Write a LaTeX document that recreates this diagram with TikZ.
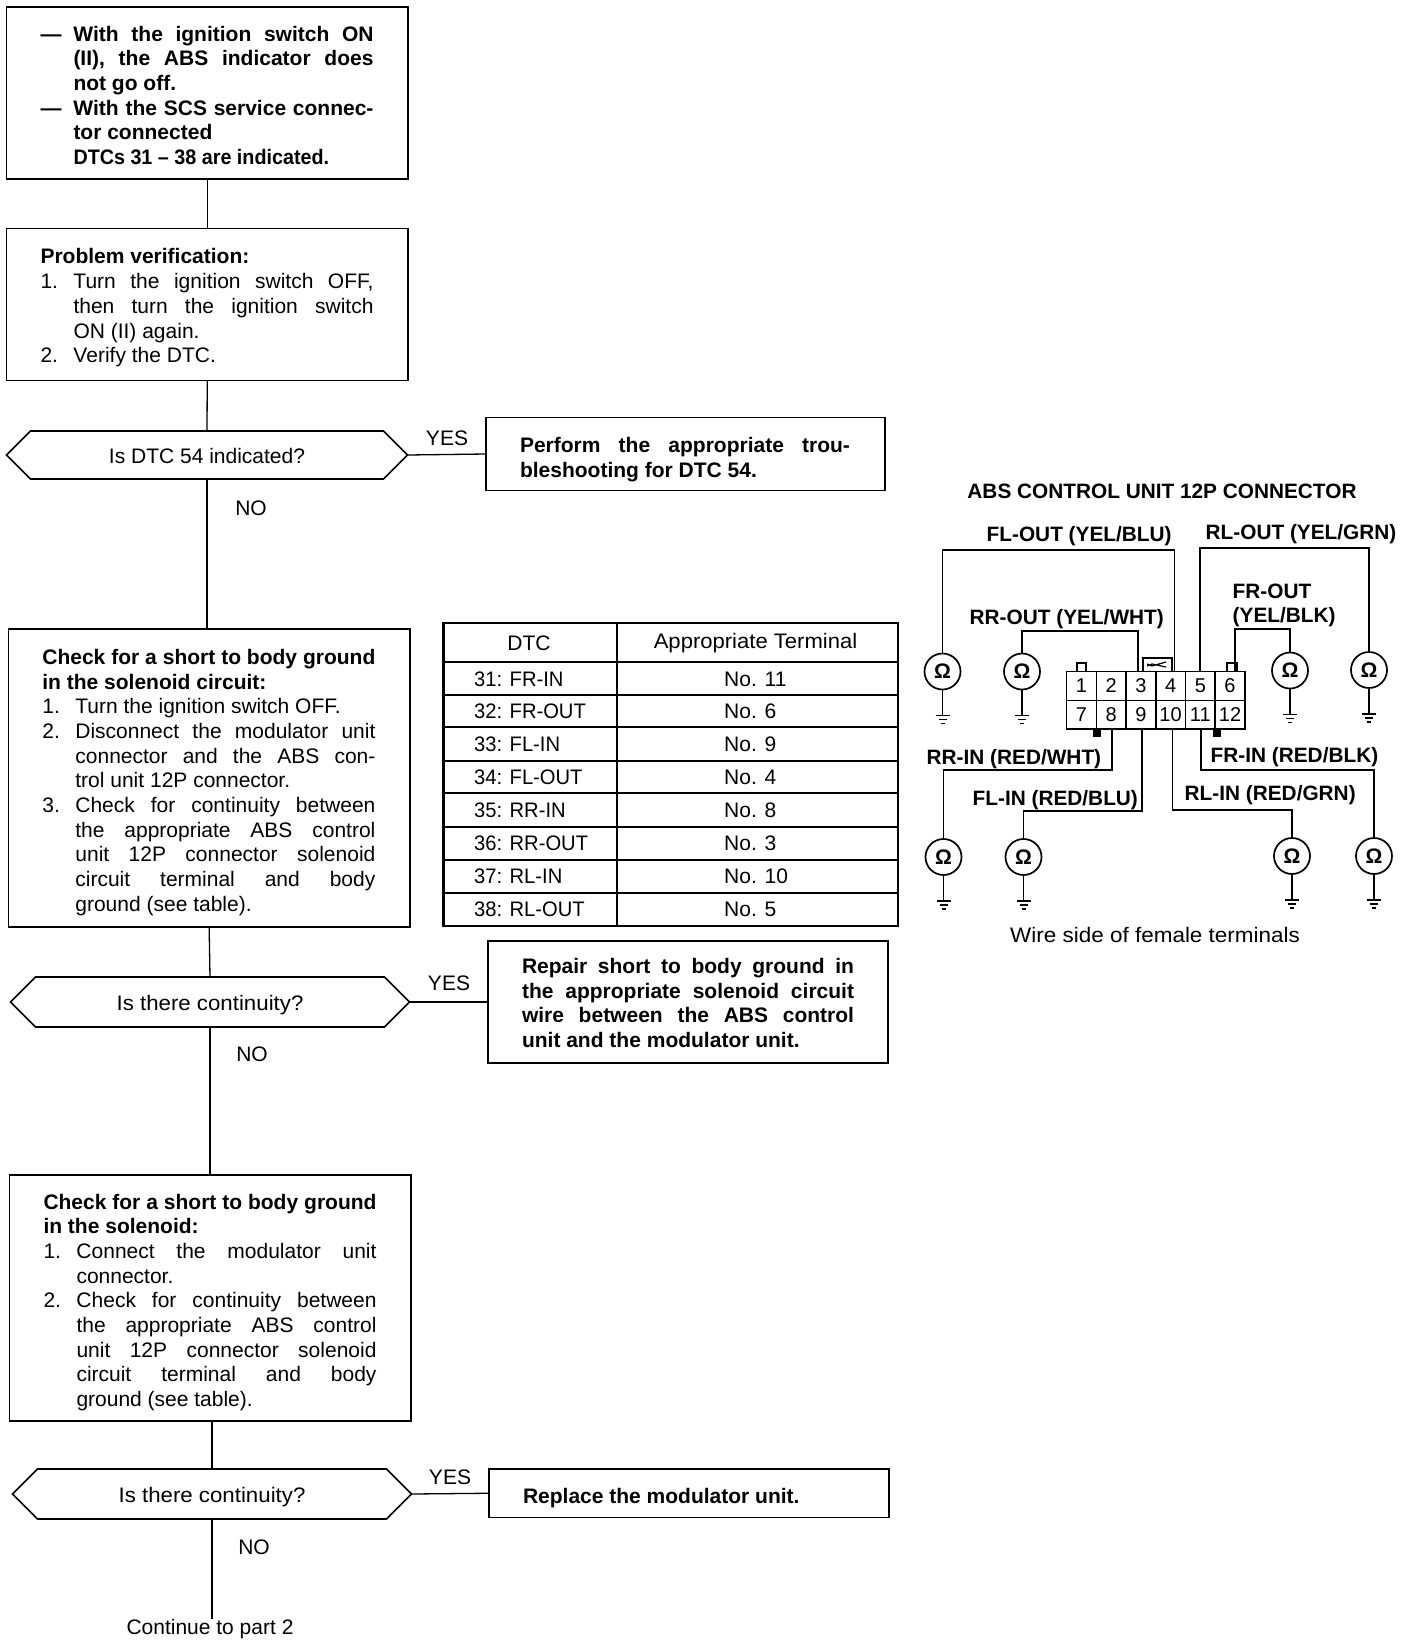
\documentclass[tikz,border=0pt]{standalone}
\usepackage{fontspec}
\setmainfont{Liberation Sans}
\usetikzlibrary{shapes.misc}

\newcommand{\bodyfont}{\fontsize{21}{24.7}\selectfont}
\newcommand{\leadrule}[1]{\rule{0pt}{#1pt}}
\newcommand{\fullline}[1]{\makebox[333pt][s]{#1}}
\newcommand{\hangline}[1]{\makebox[33pt][l]{}\makebox[300pt][s]{#1}}
\newcommand{\itemline}[2]{\makebox[33pt][l]{#1}\makebox[300pt][s]{#2}}
\newcommand{\itemtext}[2]{\makebox[33pt][l]{#1}#2}
\newcommand{\hangtext}[1]{\makebox[33pt][l]{}#1}
\newcommand{\conttext}{\raisebox{-8pt}[0pt][0pt]{\scalebox{1.06}[1]{Is there continuity?}}}

\tikzset{
  flowbox/.style={draw,line width=1.6pt,rectangle,outer sep=0pt,anchor=north west,inner xsep=34pt,inner ysep=0pt,align=flush left,font=\bodyfont},
  boldbox/.style={flowbox,font=\bodyfont\bfseries},
  decide/.style={draw,line width=1.6pt,chamfered rectangle,chamfered rectangle xsep=32pt,outer sep=0pt,inner sep=0pt,font=\bodyfont},
  flowline/.style={line width=1.3pt},
  answer/.style={inner sep=0pt,font=\bodyfont},
  cellline/.style={line width=1.5pt},
  wire/.style={line width=1.7pt},
  wirelabel/.style={anchor=west,inner sep=0pt,font=\fontsize{20.8}{24}\selectfont\bfseries},
  meter/.style={draw,circle,line width=1.7pt,minimum size=36pt,inner sep=0pt,font=\fontsize{21}{24}\selectfont\bfseries},
  pinbox/.style={draw,line width=1.5pt,minimum width=29.7pt,minimum height=28.6pt,inner sep=0pt,font=\fontsize{20}{24}\selectfont}
}

\begin{document}
\begin{tikzpicture}[x=1pt,y=1pt,yscale=-1,xscale=1]
\useasboundingbox (0,0) rectangle (1408,1646);

% Flow column
\node[boldbox,text width=333.5pt,minimum height=172pt] (start) at (6.5,7) {%
\leadrule{20}\itemline{---}{With the ignition switch ON}\\
\hangline{(II), the ABS indicator does}\\
\hangtext{not go off.}\\
\itemline{---}{With the SCS service connec-}\\
\hangtext{tor connected}\\
\hangtext{\scalebox{.94}[1]{DTCs 31 -- 38 are indicated.}}};

\node[flowbox,text width=333.5pt,minimum height=152pt] (verify) at (6.5,228.5) {%
\leadrule{22}{\bfseries Problem verification:}\\
\itemline{1.}{Turn the ignition switch OFF,}\\
\hangline{then turn the ignition switch}\\
\hangtext{ON (II) again.}\\
\itemtext{2.}{Verify the DTC.}};

\node[decide,chamfered rectangle ysep=24pt,minimum width=401pt] (isdtc) at (207,455) {\raisebox{-8pt}[0pt][0pt]{Is DTC 54 indicated?}};
\node[boldbox,text width=331pt,minimum height=73pt] (dtcfix) at (486,417.5) {%
\leadrule{26}\makebox[330pt][s]{Perform the appropriate trou-}\\
bleshooting for DTC 54.};

\node[flowbox,text width=333.5pt,minimum height=298pt] (shortone) at (8.4,629) {%
\leadrule{24}{\bfseries\fullline{Check for a short to body ground}}\\
{\bfseries in the solenoid circuit:}\\
\itemtext{1.}{Turn the ignition switch OFF.}\\
\itemline{2.}{Disconnect the modulator unit}\\
\hangline{connector and the ABS con-}\\
\hangtext{trol unit 12P connector.}\\
\itemline{3.}{Check for continuity between}\\
\hangline{the appropriate ABS control}\\
\hangline{unit 12P connector solenoid}\\
\hangline{circuit terminal and body}\\
\hangtext{ground (see table).}};

\node[decide,chamfered rectangle ysep=25pt,minimum width=399pt] (iscontone) at (210,1002) {\conttext};
\node[boldbox,text width=332pt,minimum height=122pt] (wirefix) at (488,941) {%
\leadrule{17}\makebox[332pt][s]{Repair short to body ground in}\\
\makebox[332pt][s]{the appropriate solenoid circuit}\\
\makebox[332pt][s]{wire between the ABS control}\\
unit and the modulator unit.};

\node[flowbox,text width=333.5pt,minimum height=246pt] (shorttwo) at (9.5,1175) {%
\leadrule{24}{\bfseries\fullline{Check for a short to body ground}}\\
{\bfseries in the solenoid:}\\
\itemline{1.}{Connect the modulator unit}\\
\hangtext{connector.}\\
\itemline{2.}{Check for continuity between}\\
\hangline{the appropriate ABS control}\\
\hangline{unit 12P connector solenoid}\\
\hangline{circuit terminal and body}\\
\hangtext{ground (see table).}};

\node[decide,chamfered rectangle ysep=25pt,minimum width=399pt] (isconttwo) at (212,1494) {\conttext};
\node[boldbox,text width=332pt,minimum height=48.5pt] (replace) at (489,1469) {\leadrule{24}Replace the modulator unit.};
\node[answer] (nextpart) at (210,1629) {Continue to part 2};

% Text Node
\node[answer] (yesone) at (447,438) {YES};
\node[answer] (noone) at (251,508) {NO};
\node[answer] (yestwo) at (449,983) {YES};
\node[answer] (notwo) at (252,1054) {NO};
\node[answer] (yesthree) at (450,1477) {YES};
\node[answer] (nothree) at (254,1547) {NO};

\draw[flowline] (start.south) -- (verify.north);
\draw[flowline] (verify.south) -- (isdtc.north);
\draw[flowline] (isdtc.east) -- (dtcfix.west);
\draw[flowline] (isdtc.south) -- (isdtc.south |- shortone.north);
\draw[flowline] (shortone.south) -- (iscontone.north);
\draw[flowline] (iscontone.east) -- (wirefix.west);
\draw[flowline] (iscontone.south) -- (iscontone.south |- shorttwo.north);
\draw[flowline] (isconttwo.north |- shorttwo.south) -- (isconttwo.north);
\draw[flowline] (isconttwo.east) -- (replace.west);
\draw[flowline] (isconttwo.south) -- (isconttwo.south |- nextpart.north);

% Table
\draw[line width=2.6pt] (443.5,623) rectangle (898,926);
\draw[cellline] (617,623) -- (617,926);
\foreach \y in {662,695,727,761,793,827,860,893}
  \draw[cellline] (443.5,\y) -- (898,\y);
\node[answer] (dtchead) at (529,643) {DTC};
\node[answer] (termhead) at (755.5,643) {\scalebox{1.05}[1]{Appropriate Terminal}};
\foreach \n/\y/\dtc/\term in {1/679/31: FR-IN/No. 11,2/711/32: FR-OUT/No. 6,3/744/33: FL-IN/No. 9,4/777/34: FL-OUT/No. 4,5/810/35: RR-IN/No. 8,6/843/36: RR-OUT/No. 3,7/876/37: RL-IN/No. 10,8/909/38: RL-OUT/No. 5}{
  \node[answer,anchor=west] (dtc\n) at (474,\y) {\scalebox{.96}[1]{\dtc}};
  \node[answer,anchor=west] (term\n) at (724,\y) {\term};
}

% Connector
\node[wirelabel,anchor=center] (conntitle) at (1162,491) {ABS CONTROL UNIT 12P CONNECTOR};
\foreach \n/\x in {1/1081.5,2/1111.2,3/1140.9,4/1170.6,5/1200.3,6/1230}
  \node[pinbox] (pin\n) at (\x,686) {\n};
\foreach \n/\x in {7/1081.5,8/1111.2,9/1140.9,10/1170.6,11/1200.3,12/1230}
  \node[pinbox] (pin\n) at (\x,714.6) {\n};
% tabs and lock
\draw[line width=1.5pt] (1077,671) |- (1086,663) -- (1086,671);
\draw[line width=1.5pt] (1227,671) |- (1237,663) -- (1237,671);
\fill (1093,729) rectangle (1101,737);
\fill (1213,729) rectangle (1221,737);
\draw[line width=1.5pt] (1143,671) |- (1172,658) -- (1172,671);
\draw[line width=1.2pt] (1147,664) -- (1152,666) -- (1166,662) (1147,666) -- (1152,664) -- (1166,667);

\node[meter] (mfo) at (942.5,671.5) {Ω};
\node[meter] (mro) at (1022,671.5) {Ω};
\node[meter] (mgo) at (1290,670.5) {Ω};
\node[meter] (mlo) at (1369,670) {Ω};
\node[meter] (mri) at (943.5,857) {Ω};
\node[meter] (mfi) at (1023.5,857) {Ω};
\node[meter] (mli) at (1292,856) {Ω};
\node[meter] (mgi) at (1374,856) {Ω};
\foreach \m in {mfo,mro,mgo,mlo,mri,mfi,mli,mgi}
  \draw[wire] (\m.south) -- ++(0,25) ++(-7,0) -- ++(14,0) ++(-11,4) -- ++(8,0) ++(-6,4) -- ++(4,0);

\draw[wire] (mfo.north) -- ++(0,-103) -| ([xshift=4pt]pin4.north);
\draw[wire] (mro.north) -- ++(0,-22) -| ([xshift=-3pt]pin3.north);
\draw[wire] (mlo.north) -- ++(0,-103) -| (pin5.north);
\draw[wire] (mgo.north) -- ++(0,-22.5) -| ([xshift=5pt]pin6.north);
\draw[wire] (mri.north) -- ++(0,-68) -| ([xshift=1pt]pin8.south);
\draw[wire] (mfi.north) -- ++(0,-27) -| ([xshift=1pt]pin9.south);
\draw[wire] (mli.north) -- ++(0,-27) -| ([xshift=2pt]pin10.south);
\draw[wire] (mgi.north) -- ++(0,-67) -| ([xshift=1pt]pin11.south);

\node[wirelabel] (flout) at (986.5,536) {FL-OUT (YEL/BLU)};
\node[wirelabel] (rlout) at (1205.5,534) {RL-OUT (YEL/GRN)};
\node[wirelabel] (rrout) at (969.5,619) {RR-OUT (YEL/WHT)};
\node[wirelabel] (frout) at (1232.5,591) {FR-OUT};
\node[wirelabel] (froutb) at (1232.5,617.5) {(YEL/BLK)};
\node[wirelabel] (rrin) at (926.5,759) {RR-IN (RED/WHT)};
\node[wirelabel] (flin) at (972.5,800) {FL-IN (RED/BLU)};
\node[wirelabel] (frin) at (1210.5,757) {FR-IN (RED/BLK)};
\node[wirelabel] (rlin) at (1184.5,795) {RL-IN (RED/GRN)};
\node[answer,anchor=west] (wireside) at (1010,935) {\scalebox{1.07}[1]{Wire side of female terminals}};
\end{tikzpicture}
\end{document}
